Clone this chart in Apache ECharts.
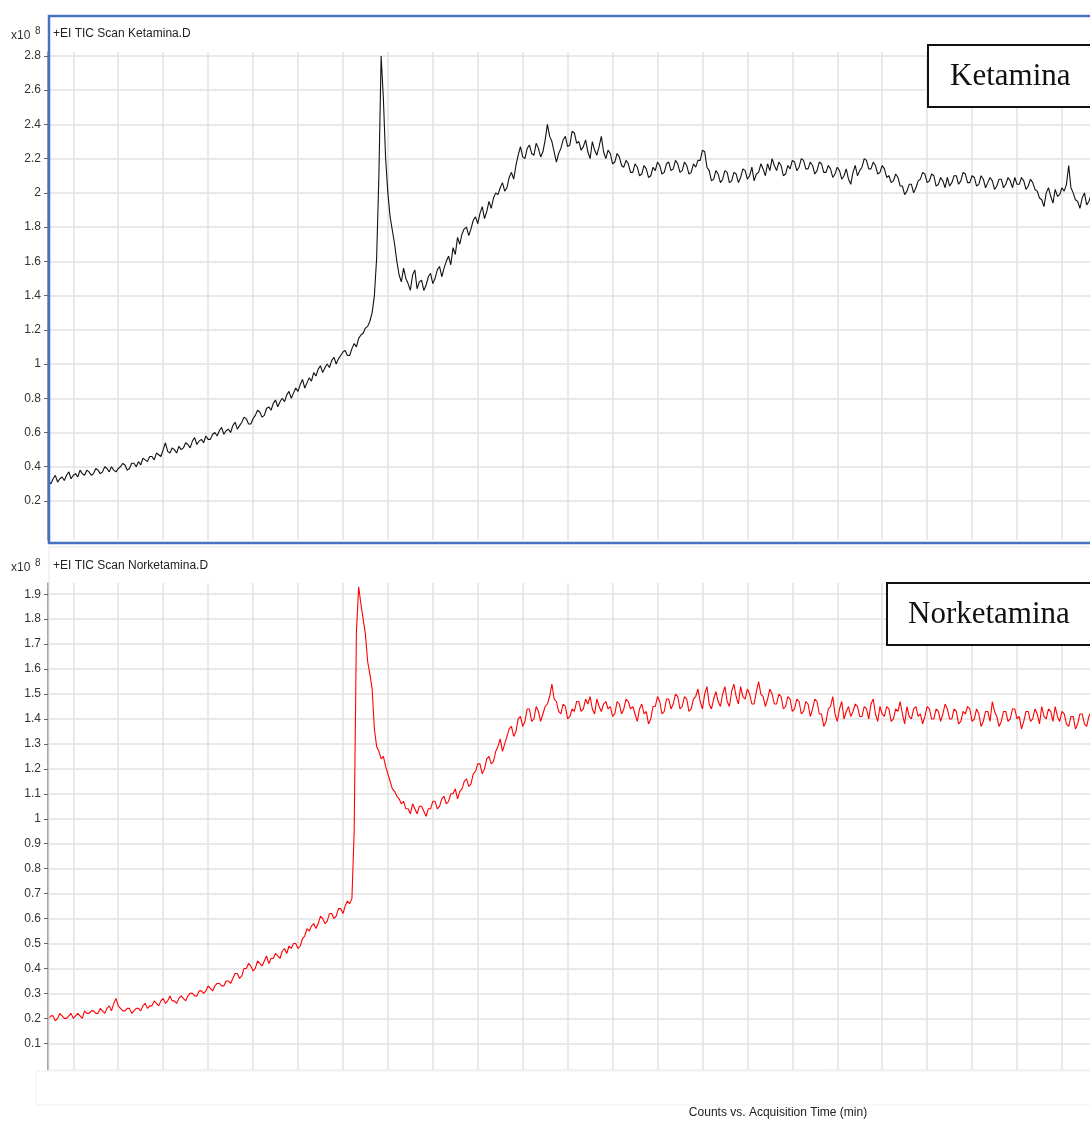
<!DOCTYPE html>
<html>
<head>
<meta charset="utf-8">
<script src="https://cdn.jsdelivr.net/npm/echarts@6/dist/echarts.min.js"></script>
<style>
html,body{margin:0;padding:0;background:#fff;}
#chart{width:1090px;height:1121px;}
</style>
</head>
<body>
<div id="chart"></div>
<script>
// ---- data ----
const scanStart = 0.45;   // min, first plotted scan
const scanStep = 0.05;    // min between plotted scans
const timeGrid = [1,2,3,4,5,6,7,8,9,10,11,12,13,14,15,16,17,18,19,20,21,22,23];
const ketTicks = [0.2,0.4,0.6,0.8,1,1.2,1.4,1.6,1.8,2,2.2,2.4,2.6,2.8];
const norTicks = [0.1,0.2,0.3,0.4,0.5,0.6,0.7,0.8,0.9,1,1.1,1.2,1.3,1.4,1.5,1.6,1.7,1.8,1.9];
const ketaminaCounts = [
0.32,0.30,0.33,0.35,0.31,0.33,0.34,0.32,0.35,0.37,0.33,0.35,0.36,0.34,0.38,0.36,0.35,0.38,0.37,0.35,
0.36,0.39,0.38,0.36,0.37,0.40,0.39,0.37,0.40,0.38,0.37,0.39,0.40,0.42,0.41,0.38,0.39,0.42,0.42,0.40,
0.43,0.41,0.45,0.44,0.43,0.46,0.46,0.44,0.48,0.47,0.46,0.50,0.54,0.49,0.48,0.51,0.50,0.48,0.52,0.50,
0.51,0.54,0.53,0.51,0.55,0.57,0.53,0.55,0.56,0.54,0.58,0.56,0.56,0.59,0.60,0.58,0.61,0.63,0.59,0.61,
0.62,0.60,0.64,0.66,0.62,0.64,0.66,0.69,0.68,0.65,0.65,0.68,0.70,0.73,0.72,0.69,0.70,0.74,0.75,0.73,
0.77,0.79,0.75,0.78,0.80,0.78,0.82,0.84,0.80,0.83,0.86,0.84,0.88,0.91,0.86,0.89,0.92,0.90,0.95,0.93,
0.97,0.99,0.95,0.98,1.00,0.98,1.02,1.04,1.00,1.03,1.05,1.07,1.08,1.05,1.05,1.09,1.12,1.10,1.15,1.17,
1.18,1.21,1.22,1.25,1.30,1.40,1.62,2.10,2.80,2.55,2.20,2.00,1.86,1.78,1.70,1.60,1.52,1.48,1.56,1.50,
1.47,1.43,1.52,1.55,1.44,1.48,1.49,1.43,1.46,1.51,1.53,1.47,1.50,1.55,1.57,1.51,1.56,1.60,1.63,1.58,
1.68,1.64,1.74,1.70,1.76,1.79,1.80,1.75,1.79,1.84,1.86,1.82,1.88,1.92,1.85,1.89,1.95,1.91,1.97,2.00,
1.99,2.03,2.06,2.01,2.03,2.09,2.12,2.08,2.16,2.22,2.27,2.21,2.20,2.26,2.28,2.23,2.22,2.29,2.26,2.21,
2.24,2.31,2.40,2.33,2.30,2.24,2.18,2.23,2.26,2.31,2.33,2.27,2.28,2.36,2.35,2.29,2.30,2.25,2.27,2.31,
2.24,2.20,2.30,2.25,2.22,2.27,2.33,2.24,2.20,2.25,2.23,2.17,2.18,2.23,2.21,2.16,2.15,2.19,2.17,2.12,
2.12,2.17,2.15,2.10,2.11,2.16,2.14,2.09,2.10,2.15,2.13,2.18,2.16,2.11,2.12,2.17,2.18,2.13,2.14,2.19,
2.17,2.12,2.13,2.18,2.16,2.11,2.12,2.17,2.15,2.19,2.19,2.25,2.24,2.15,2.13,2.07,2.08,2.13,2.11,2.06,
2.08,2.13,2.12,2.06,2.07,2.12,2.11,2.06,2.09,2.14,2.13,2.08,2.10,2.15,2.07,2.11,2.12,2.17,2.14,2.10,
2.17,2.13,2.20,2.16,2.13,2.18,2.16,2.10,2.11,2.16,2.14,2.19,2.18,2.13,2.15,2.20,2.19,2.14,2.14,2.18,
2.16,2.11,2.13,2.18,2.17,2.12,2.12,2.16,2.14,2.09,2.11,2.15,2.13,2.08,2.10,2.14,2.08,2.05,2.12,2.16,
2.10,2.13,2.15,2.20,2.19,2.14,2.14,2.18,2.16,2.11,2.12,2.16,2.14,2.09,2.10,2.06,2.07,2.11,2.09,2.04,
2.04,1.99,2.01,2.05,2.05,2.00,2.03,2.07,2.08,2.12,2.11,2.06,2.07,2.11,2.10,2.04,2.05,2.09,2.07,2.03,
2.09,2.04,2.06,2.10,2.10,2.05,2.07,2.12,2.11,2.06,2.06,2.10,2.09,2.04,2.05,2.10,2.08,2.03,2.06,2.09,
2.07,2.02,2.04,2.08,2.08,2.03,2.05,2.09,2.07,2.03,2.09,2.05,2.05,2.09,2.07,2.02,2.04,2.08,2.06,2.02,
2.01,1.97,1.96,1.92,2.00,2.03,1.98,1.94,2.02,1.98,1.99,2.03,2.01,2.05,2.16,2.03,2.00,1.96,1.95,1.91,
1.97,2.00,1.93,1.95,1.99,1.95,1.96,2.00,1.98
];
const norketaminaCounts = [
0.20,0.21,0.21,0.19,0.20,0.22,0.21,0.20,0.20,0.21,0.22,0.20,0.21,0.22,0.21,0.20,0.23,0.22,0.22,0.23,
0.23,0.22,0.22,0.24,0.23,0.22,0.24,0.25,0.23,0.26,0.28,0.25,0.24,0.23,0.23,0.24,0.24,0.22,0.23,0.24,
0.24,0.23,0.25,0.26,0.24,0.25,0.25,0.27,0.26,0.25,0.27,0.28,0.26,0.27,0.29,0.27,0.27,0.26,0.28,0.29,
0.28,0.27,0.29,0.30,0.30,0.29,0.29,0.31,0.31,0.30,0.31,0.33,0.32,0.31,0.33,0.34,0.34,0.33,0.33,0.35,
0.35,0.34,0.36,0.38,0.38,0.36,0.37,0.40,0.40,0.42,0.41,0.39,0.40,0.43,0.42,0.41,0.43,0.45,0.42,0.44,
0.44,0.46,0.45,0.44,0.47,0.48,0.46,0.49,0.48,0.50,0.50,0.48,0.49,0.52,0.53,0.56,0.55,0.57,0.58,0.56,
0.58,0.61,0.60,0.58,0.59,0.62,0.62,0.60,0.61,0.64,0.64,0.62,0.65,0.67,0.66,0.68,0.95,1.75,1.93,1.86,
1.80,1.74,1.63,1.58,1.52,1.36,1.29,1.27,1.24,1.25,1.21,1.18,1.15,1.12,1.11,1.09,1.08,1.06,1.07,1.04,
1.04,1.02,1.06,1.04,1.02,1.05,1.05,1.03,1.01,1.04,1.04,1.07,1.07,1.04,1.05,1.08,1.09,1.06,1.07,1.10,
1.10,1.12,1.08,1.11,1.12,1.15,1.16,1.13,1.14,1.18,1.19,1.22,1.22,1.18,1.20,1.24,1.25,1.22,1.23,1.27,
1.29,1.32,1.27,1.30,1.33,1.36,1.37,1.33,1.35,1.40,1.41,1.37,1.39,1.44,1.44,1.39,1.40,1.45,1.43,1.39,
1.42,1.45,1.46,1.49,1.54,1.48,1.47,1.43,1.42,1.46,1.45,1.40,1.41,1.44,1.43,1.47,1.47,1.43,1.44,1.48,
1.46,1.49,1.44,1.42,1.48,1.45,1.43,1.46,1.47,1.44,1.45,1.41,1.42,1.47,1.46,1.42,1.44,1.48,1.47,1.44,
1.45,1.42,1.39,1.44,1.46,1.42,1.43,1.38,1.40,1.45,1.45,1.49,1.47,1.42,1.43,1.48,1.48,1.44,1.46,1.50,
1.49,1.44,1.45,1.49,1.48,1.43,1.44,1.48,1.49,1.52,1.47,1.44,1.50,1.53,1.46,1.44,1.48,1.51,1.47,1.45,
1.50,1.53,1.47,1.45,1.51,1.54,1.49,1.46,1.53,1.49,1.48,1.52,1.50,1.46,1.46,1.51,1.55,1.50,1.49,1.45,
1.48,1.52,1.50,1.46,1.46,1.50,1.49,1.44,1.45,1.49,1.48,1.43,1.44,1.48,1.47,1.42,1.43,1.47,1.46,1.41,
1.44,1.48,1.47,1.42,1.42,1.37,1.39,1.44,1.45,1.49,1.42,1.39,1.44,1.47,1.40,1.43,1.45,1.41,1.43,1.46,
1.45,1.41,1.41,1.45,1.44,1.40,1.46,1.48,1.42,1.39,1.45,1.42,1.41,1.45,1.44,1.39,1.40,1.44,1.43,1.47,
1.42,1.38,1.45,1.41,1.40,1.44,1.45,1.41,1.42,1.38,1.41,1.45,1.44,1.40,1.40,1.44,1.43,1.39,1.42,1.46,
1.44,1.40,1.40,1.44,1.43,1.38,1.39,1.43,1.42,1.45,1.44,1.39,1.40,1.44,1.42,1.37,1.39,1.43,1.43,1.39,
1.47,1.43,1.41,1.37,1.39,1.43,1.43,1.39,1.40,1.44,1.44,1.40,1.41,1.36,1.39,1.43,1.43,1.39,1.40,1.44,
1.42,1.38,1.45,1.41,1.40,1.44,1.43,1.39,1.45,1.41,1.39,1.43,1.42,1.38,1.37,1.41,1.41,1.36,1.38,1.42,
1.42,1.38,1.37,1.41,1.43,1.38,1.40,1.44,1.44
];
const titleTop = '+EI TIC Scan Ketamina.D';
const titleBottom = '+EI TIC Scan Norketamina.D';
const xTitle = 'Counts vs. Acquisition Time (min)';

// ---- chart ----
const FONT = '"Liberation Sans", Arial, sans-serif';
const GRID_COLOR = '#e2e2e2';
const toPairs = arr => arr.map((v, i) => [+(scanStart + i * scanStep).toFixed(3), v]);

function xAxisFor(gi) {
  return {
    type: 'value', gridIndex: gi, min: 0.437, max: 23.9,
    minInterval: 1, maxInterval: 1, splitNumber: 23,
    axisLine: { show: false },
    axisTick: { show: false, customValues: timeGrid },
    axisLabel: { show: false, customValues: timeGrid },
    splitLine: { show: true, lineStyle: { color: GRID_COLOR, width: 1.5 } }
  };
}
function yAxisFor(gi, min, max, ticks) {
  return {
    type: 'value', gridIndex: gi, min: min, max: max,
    axisLine: { show: true, lineStyle: { color: '#8a8a8a', width: 1.5 } },
    axisTick: { show: true, length: 4, lineStyle: { color: '#666' }, customValues: ticks },
    axisLabel: { show: true, customValues: ticks, color: '#333', fontSize: 12, fontFamily: FONT, margin: 7 },
    splitLine: { show: true, lineStyle: { color: GRID_COLOR, width: 1.5 } }
  };
}

const chart = echarts.init(document.getElementById('chart'), null, { renderer: 'canvas' });
chart.setOption({
  animation: false,
  backgroundColor: '#fff',
  grid: [
    { left: 48, top: 52, width: 1054.4, height: 488, outerBoundsMode: 'none', containLabel: false },
    { left: 48, top: 583, width: 1054.4, height: 487, outerBoundsMode: 'none', containLabel: false }
  ],
  xAxis: [xAxisFor(0), xAxisFor(1)],
  yAxis: [yAxisFor(0, -0.028, 2.823, ketTicks), yAxisFor(1, -0.007, 1.945, norTicks)],
  series: [
    { type: 'line', xAxisIndex: 0, yAxisIndex: 0, data: toPairs(ketaminaCounts), showSymbol: false,
      sampling: null, lineStyle: { color: '#111', width: 1.1 }, itemStyle: { color: '#111' }, z: 5 },
    { type: 'line', xAxisIndex: 1, yAxisIndex: 1, data: toPairs(norketaminaCounts), showSymbol: false,
      sampling: null, lineStyle: { color: '#ff0000', width: 1.1 }, itemStyle: { color: '#ff0000' }, z: 5 }
  ],
  graphic: [
    // panel frames
    { type: 'rect', z: 50, silent: true, shape: { x: 49, y: 547, width: 1060, height: 523 },
      style: { fill: 'none', stroke: '#e6e6e6', lineWidth: 1 } },
    { type: 'rect', z: 50, silent: true, shape: { x: 36, y: 1071, width: 1070, height: 34 },
      style: { fill: 'none', stroke: '#f1f1f1', lineWidth: 1 } },
    { type: 'rect', z: 60, silent: true, shape: { x: 49, y: 16, width: 1060, height: 527 },
      style: { fill: 'none', stroke: '#4472C4', lineWidth: 2.5 } },
    // headers
    { type: 'text', z: 60, style: { text: titleTop, x: 53, y: 34, fill: '#222', font: '12px ' + FONT, textVerticalAlign: 'middle' } },
    { type: 'text', z: 60, style: { text: titleBottom, x: 53, y: 566, fill: '#222', font: '12px ' + FONT, textVerticalAlign: 'middle' } },
    { type: 'text', z: 60, style: { text: 'x10', x: 11, y: 36, fill: '#333', font: '12px ' + FONT, textVerticalAlign: 'middle' } },
    { type: 'text', z: 60, style: { text: '8', x: 35, y: 31, fill: '#333', font: '10px ' + FONT, textVerticalAlign: 'middle' } },
    { type: 'text', z: 60, style: { text: 'x10', x: 11, y: 568, fill: '#333', font: '12px ' + FONT, textVerticalAlign: 'middle' } },
    { type: 'text', z: 60, style: { text: '8', x: 35, y: 563, fill: '#333', font: '10px ' + FONT, textVerticalAlign: 'middle' } },
    // legend boxes
    { type: 'rect', z: 70, silent: true, shape: { x: 928, y: 45, width: 170, height: 62 },
      style: { fill: '#fff', stroke: '#111', lineWidth: 2 } },
    { type: 'text', z: 71, style: { text: 'Ketamina', x: 950, y: 77, fill: '#111', font: '31px "Liberation Serif", "Times New Roman", serif', textVerticalAlign: 'middle' } },
    { type: 'rect', z: 70, silent: true, shape: { x: 887, y: 583, width: 210, height: 62 },
      style: { fill: '#fff', stroke: '#111', lineWidth: 2 } },
    { type: 'text', z: 71, style: { text: 'Norketamina', x: 908, y: 615, fill: '#111', font: '31px "Liberation Serif", "Times New Roman", serif', textVerticalAlign: 'middle' } },
    // x axis title
    { type: 'text', z: 60, style: { text: xTitle, x: 778, y: 1113, fill: '#222', font: '12px ' + FONT, textAlign: 'center', textVerticalAlign: 'middle' } }
  ]
});
</script>
</body>
</html>
